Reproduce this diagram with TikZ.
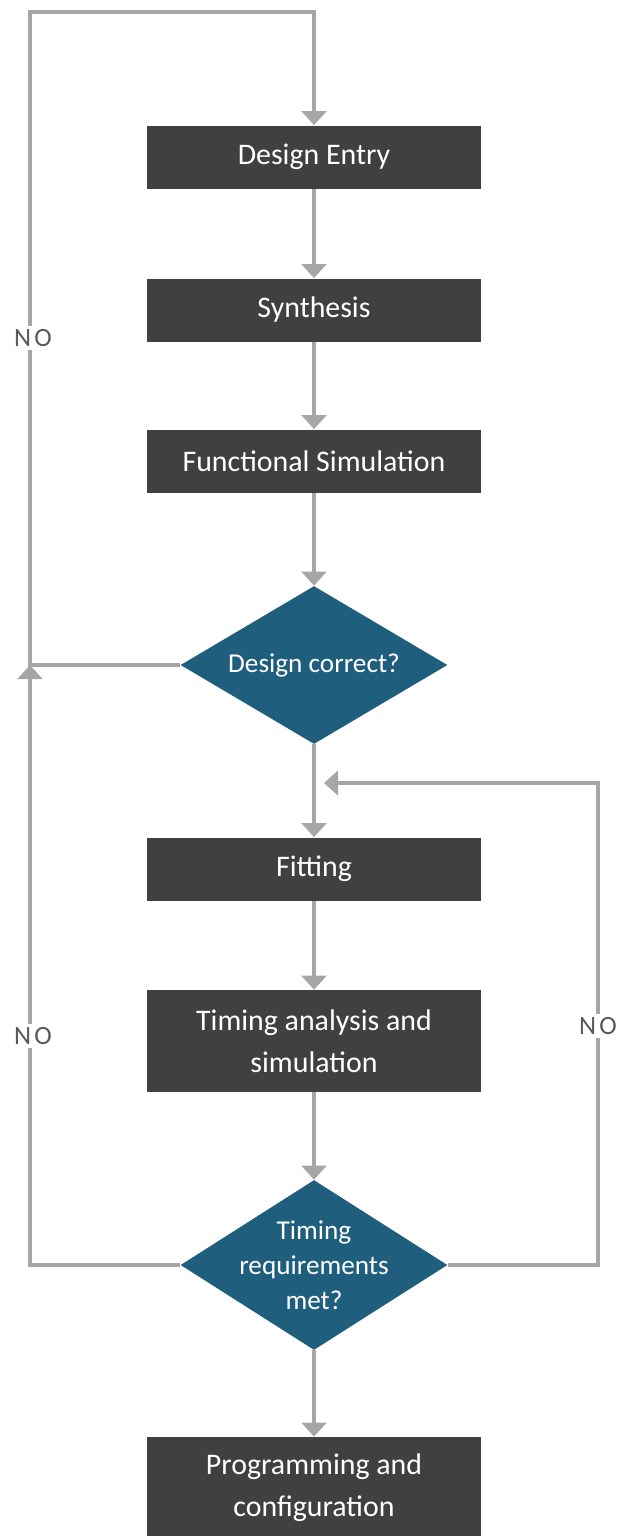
\documentclass[tikz,border=0pt]{standalone}
\usepackage{fontspec}
\setmainfont{Carlito}
\usetikzlibrary{shapes.geometric,arrows.meta}
\definecolor{boxgray}{RGB}{64,64,64}
\definecolor{decblue}{RGB}{31,94,124}
\definecolor{linegray}{RGB}{166,166,166}
\definecolor{labelgray}{RGB}{89,89,89}
\begin{document}
\begin{tikzpicture}[x=0.02cm,y=-0.02cm,
                    >={Triangle[width=14pt,length=8pt]},
                    stepbox/.style={fill=boxgray,text=white,inner sep=0pt,
                      minimum width=6.68cm,minimum height=1.26cm,align=center,
                      font=\fontsize{17}{24}\selectfont},
                    decision/.style={diamond,fill=decblue,text=white,inner sep=-4pt,
                      aspect=1.69,minimum width=5.34cm,minimum height=3.16cm,align=center,
                      font=\fontsize{15.5}{20}\selectfont},
                    flow/.style={draw=linegray,line width=2.3pt},
                    nolabel/.style={fill=white,text=labelgray,inner sep=2pt,
                      font=\fontsize{15}{17}\selectfont\addfontfeatures{LetterSpace=12}}]
                    \useasboundingbox (0,0) rectangle (619,1536);

                    % main column
                    \node[stepbox] (entry) at (314,157) {Design Entry};
                    \node[stepbox] (synth) at (314,310) {Synthesis};
                    \node[stepbox] (funcsim) at (314,461) {Functional Simulation};
                    \node[decision] (correct) at (314,665) {Design correct?};
                    \node[stepbox] (fit) at (314,869) {Fitting};
                    \node[stepbox,minimum height=2.04cm] (timing) at (314,1041)
                      {Timing analysis and\\simulation};
                    \node[decision,aspect=1.57,minimum height=3.4cm] (reqmet) at (314,1265)
                      {Timing\\requirements\\met?};
                    \node[stepbox,minimum height=2.04cm] (prog) at (314,1488)
                      {Programming and\\configuration};

                    % loop corners
                    \coordinate (topleft) at (30,12);
                    \coordinate (joinleft) at (30,665);
                    \coordinate (rightup) at (598,783);
                    \coordinate (joinright) at (324,783);

                    \draw[flow,->] (entry) -- (synth);
                    \draw[flow,->] (synth) -- (funcsim);
                    \draw[flow,->] (funcsim) -- (correct);
                    \draw[flow,->] (correct) -- (fit);
                    \draw[flow,->] (fit) -- (timing);
                    \draw[flow,->] (timing) -- (reqmet);
                    \draw[flow,->] (reqmet) -- (prog);

                    \draw[flow,->] (correct.west) -| (topleft) -| (entry.north);
                    \draw[flow,->] (reqmet.west) -| (joinleft);
                    \draw[flow,->] (reqmet.east) -| (rightup) -- (joinright);

                    \node[nolabel] (no1) at (33,338) {NO};
                    \node[nolabel] (no2) at (33,1036) {NO};
                    \node[nolabel] (no3) at (598,1026) {NO};
\end{tikzpicture}
\end{document}
